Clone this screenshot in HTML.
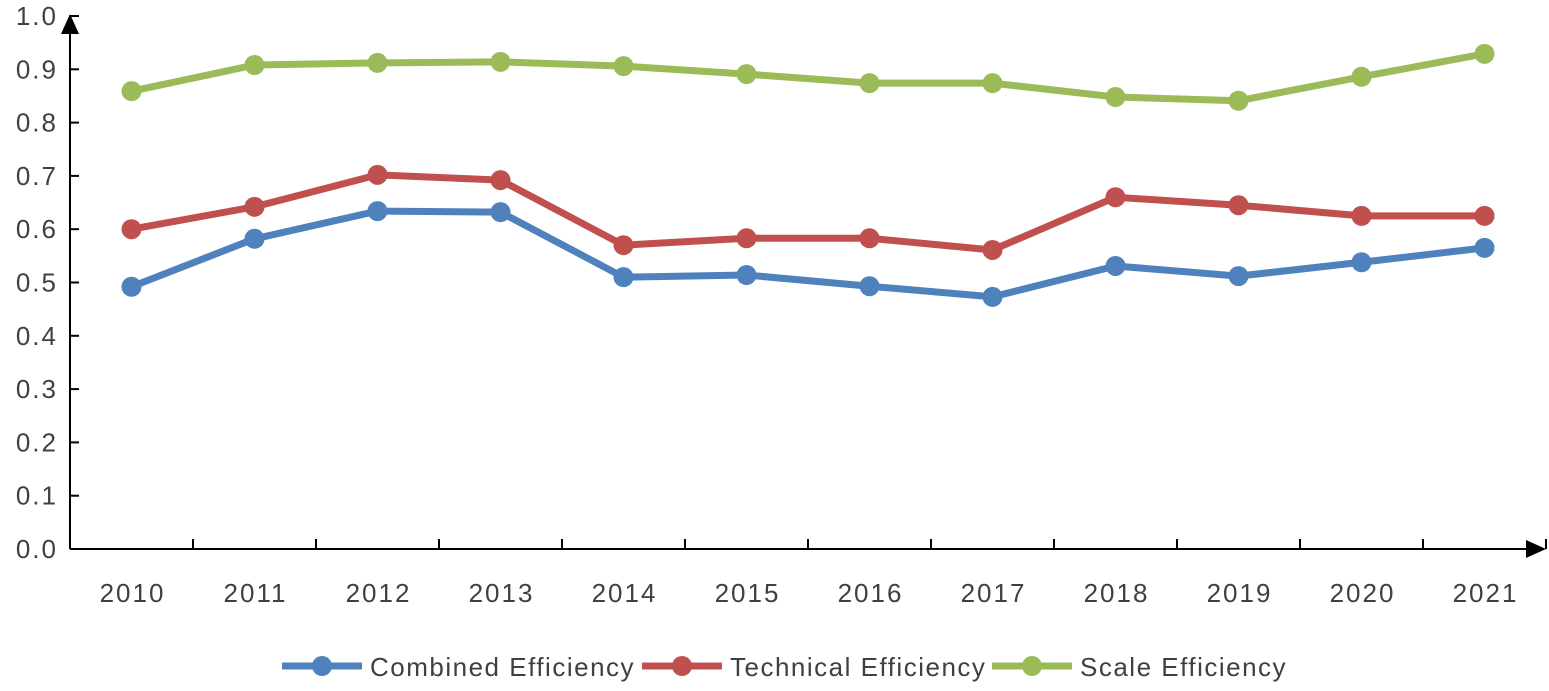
<!DOCTYPE html>
<html><head><meta charset="utf-8"><style>
html,body{margin:0;padding:0;background:#fff;}
svg{display:block;font-family:"Liberation Sans","DejaVu Sans",sans-serif;}
</style></head><body>
<svg id="chart" width="1549" height="691" viewBox="0 0 1549 691"></svg>
<script>
const categories=["2010","2011","2012","2013","2014","2015","2016","2017","2018","2019","2020","2021"];
const combined=[0.492,0.582,0.634,0.632,0.510,0.514,0.493,0.473,0.531,0.512,0.538,0.565];
const technical=[0.600,0.642,0.702,0.692,0.570,0.583,0.583,0.561,0.660,0.645,0.625,0.625];
const scale=[0.859,0.908,0.912,0.914,0.906,0.891,0.874,0.874,0.848,0.841,0.886,0.929];
const yTicks=[0,0.1,0.2,0.3,0.4,0.5,0.6,0.7,0.8,0.9,1.0];
const seriesNames=["Combined Efficiency","Technical Efficiency","Scale Efficiency"];

const svg=document.getElementById('chart');
const NS='http://www.w3.org/2000/svg';
const x0=70,y0=549,yTop=16;
const step=123;
function xs(i){return x0+step*(i+0.5);}
function ys(v){return y0-(y0-yTop)*v;}
function mk(tag,attrs,parent){const e=document.createElementNS(NS,tag);for(const k in attrs)e.setAttribute(k,attrs[k]);(parent||svg).appendChild(e);return e;}

const axes=mk('g',{});


mk('line',{x1:x0,y1:y0,x2:1530,y2:y0,stroke:'#000','stroke-width':2},axes);
mk('line',{x1:x0,y1:y0,x2:x0,y2:30,stroke:'#000','stroke-width':2},axes);
mk('polygon',{points:`${x0-9},34 ${x0+9},34 ${x0},14`,fill:'#000'},axes);
mk('polygon',{points:`1526,${y0-9} 1526,${y0+9} 1546,${y0}`,fill:'#000'},axes);

yTicks.forEach(v=>{
  const y=ys(v);
  const t=mk('line',{x1:x0,y1:y,x2:x0+9,y2:y,stroke:'#000','stroke-width':2},axes);
  
  
  const l=mk('text',{x:x0-12,y:y+9,'text-anchor':'end','font-size':26,'letter-spacing':2,fill:'#404040'});
  l.textContent=v.toFixed(1);
  
  
});
for(let i=0;i<=categories.length;i++){
  const x=x0+step*i;
  const t=mk('line',{x1:x,y1:y0,x2:x,y2:y0-10,stroke:'#000','stroke-width':2},axes);
  
  
}
categories.forEach((c,i)=>{
  const l=mk('text',{x:xs(i)+1,y:602,'text-anchor':'middle','font-size':26,'letter-spacing':2,fill:'#404040'});
  l.textContent=c;
  
  
});

const colors=['#4F81BD','#C0504D','#9BBB59'];
[combined,technical,scale].forEach((data,s)=>{
  const g=mk('g',{});
  
  
  mk('polyline',{points:data.map((v,i)=>xs(i)+','+ys(v)).join(' '),fill:'none',stroke:colors[s],'stroke-width':7,'stroke-linejoin':'round'},g);
  data.forEach((v,i)=>{
    const c=mk('circle',{cx:xs(i),cy:ys(v),r:10,fill:colors[s]},g);
    
    
  });
});

const legX=[282,642,992];
seriesNames.forEach((n,s)=>{
  const g=mk('g',{});
  
  
  const x=legX[s];
  mk('line',{x1:x,y1:666,x2:x+80,y2:666,stroke:colors[s],'stroke-width':7},g);
  mk('circle',{cx:x+40,cy:666,r:10,fill:colors[s]},g);
  const t=mk('text',{x:x+88,y:676,'font-size':26,'letter-spacing':1.5,fill:'#404040'},g);
  t.textContent=n;
});
</script>
</body></html>
